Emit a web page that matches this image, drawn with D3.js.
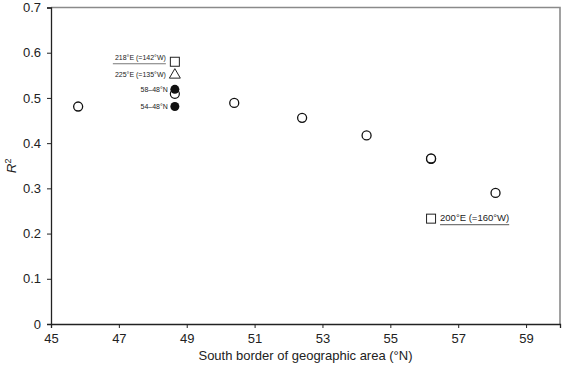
<!DOCTYPE html>
<html>
<head>
<meta charset="utf-8">
<script src="https://cdn.jsdelivr.net/npm/d3@7"></script>
<style>
  body { margin: 0; background: #fff; }
  text { font-family: "Liberation Sans", Arial, sans-serif; fill: #222; }
</style>
</head>
<body>
<svg id="chart"></svg>
<script>
// Chart size
const width = 563, height = 369;
const margin = { top: 7.5, right: 3, bottom: 45, left: 51 };

// Data: south border latitude vs R^2
const openLat = [45.8, 50.4, 52.4, 54.3, 56.2, 56.2, 58.1];
const openR2 = [0.481, 0.489, 0.456, 0.417, 0.365, 0.366, 0.29];

// Special points at 48.6 degrees
const groupLat = 48.65;
const halfOpenR2 = 0.509;   // open circle under the 58-48 point
const filledR2 = [0.519, 0.481];
const filledLabels = ["58\u201348\u00b0N", "54\u201348\u00b0N"];

const squareLat = [48.65, 56.2];
const squareR2 = [0.58, 0.233];
const squareLabels = ["218\u00b0E (=142\u00b0W)", "200\u00b0E (=160\u00b0W)"];

const triangleLat = [48.65];
const triangleR2 = [0.553];
const triangleLabels = ["225\u00b0E (=135\u00b0W)"];

const xTicks = [45, 47, 49, 51, 53, 55, 57, 59];
const yTicks = [0, 0.1, 0.2, 0.3, 0.4, 0.5, 0.6, 0.7];

const svg = d3.select("#chart")
    .attr("width", width)
    .attr("height", height);

const x = d3.scaleLinear().domain([45, 60]).range([margin.left, width - margin.right]);
const y = d3.scaleLinear().domain([0, 0.7]).range([height - margin.bottom, margin.top]);

// Grey frame on top and right
svg.append("path")
    .attr("d", `M${x(45)},${y(0.7)}H${x(60)}V${y(0)}`)
    .attr("fill", "none")
    .attr("stroke", "#8a8a8a")
    .attr("stroke-width", 1.6);

// Axes
const xAxis = svg.append("g")
    .attr("transform", `translate(0,${y(0)})`)
    .call(d3.axisBottom(x).tickValues(xTicks).tickSize(4).tickPadding(6).tickFormat(d3.format("d")));

const yAxis = svg.append("g")
    .attr("transform", `translate(${x(45)},0)`)
    .call(d3.axisLeft(y).tickValues(yTicks).tickSize(4).tickPadding(6).tickFormat(d => d === 0 ? "0" : d3.format(".1f")(d)));

[xAxis, yAxis].forEach(a => {
    a.select(".domain").attr("stroke", "#222").attr("stroke-width", 1.3);
    a.selectAll(".tick line").attr("stroke", "#222");
    a.selectAll(".tick text").attr("font-size", 13).attr("fill", "#222")
        .attr("font-family", "Liberation Sans, Arial, sans-serif");
});

// Axis titles
svg.append("text")
    .attr("x", (x(45) + x(60)) / 2)
    .attr("y", 360)
    .attr("text-anchor", "middle")
    .attr("font-size", 13)
    .text("South border of geographic area (\u00b0N)");

const yTitle = svg.append("text")
    .attr("transform", `translate(16,${y(0.35)}) rotate(-90)`)
    .attr("text-anchor", "middle")
    .attr("font-size", 13.5);
yTitle.append("tspan").attr("font-style", "italic").text("R");
yTitle.append("tspan").attr("font-size", 9).attr("dy", -5).text("2");

const r = 4.5;

// Open circles
svg.append("g").selectAll("circle")
    .data(openLat.map((d, i) => [d, openR2[i]]))
    .join("circle")
    .attr("cx", d => x(d[0]))
    .attr("cy", d => y(d[1]))
    .attr("r", r)
    .attr("fill", "white")
    .attr("stroke", "#111")
    .attr("stroke-width", 1.3);

// Open circle behind the 58-48 point
svg.append("circle")
    .attr("cx", x(groupLat))
    .attr("cy", y(halfOpenR2))
    .attr("r", r)
    .attr("fill", "white")
    .attr("stroke", "#111")
    .attr("stroke-width", 1.2);

// Filled circles
svg.append("g").selectAll("circle")
    .data(filledR2)
    .join("circle")
    .attr("cx", x(groupLat))
    .attr("cy", d => y(d))
    .attr("r", r)
    .attr("fill", "#111");

svg.append("g").selectAll("text")
    .data(filledR2)
    .join("text")
    .attr("x", x(groupLat) - 7)
    .attr("y", d => y(d) + 2.5)
    .attr("text-anchor", "end")
    .attr("font-size", 7)
    .text((d, i) => filledLabels[i]);

// Squares
const sq = 9;
svg.append("g").selectAll("rect")
    .data(squareLat.map((d, i) => [d, squareR2[i]]))
    .join("rect")
    .attr("x", d => x(d[0]) - sq / 2)
    .attr("y", d => y(d[1]) - sq / 2)
    .attr("width", sq)
    .attr("height", sq)
    .attr("fill", "white")
    .attr("stroke", "#222")
    .attr("stroke-width", 1);

// Triangle
svg.append("g").selectAll("path")
    .data(triangleLat.map((d, i) => [d, triangleR2[i]]))
    .join("path")
    .attr("d", d3.symbol(d3.symbolTriangle, 52))
    .attr("transform", d => `translate(${x(d[0])},${y(d[1]) + 1})`)
    .attr("fill", "white")
    .attr("stroke", "#222")
    .attr("stroke-width", 1);

// Labels for the 48.65 square and triangle, separated by a rule
const lx = x(groupLat) - 9;
svg.append("text")
    .attr("x", lx)
    .attr("y", y(squareR2[0]) - 2)
    .attr("text-anchor", "end")
    .attr("font-size", 7)
    .text(squareLabels[0]);
svg.append("line")
    .attr("x1", lx - 53).attr("x2", lx)
    .attr("y1", y(squareR2[0]) + 2).attr("y2", y(squareR2[0]) + 2)
    .attr("stroke", "#777").attr("stroke-width", 1.2);
svg.append("text")
    .attr("x", lx)
    .attr("y", y(triangleR2[0]) + 3)
    .attr("text-anchor", "end")
    .attr("font-size", 7)
    .text(triangleLabels[0]);

// Label for the 200E square, underlined
const l2x = x(squareLat[1]) + 9;
const l2 = svg.append("text")
    .attr("x", l2x)
    .attr("y", y(squareR2[1]) + 2)
    .attr("font-size", 9.5)
    .text(squareLabels[1]);
const l2w = l2.node().getComputedTextLength();
svg.append("line")
    .attr("x1", l2x).attr("x2", l2x + l2w)
    .attr("y1", y(squareR2[1]) + 6).attr("y2", y(squareR2[1]) + 6)
    .attr("stroke", "#777").attr("stroke-width", 1.2);
</script>
</body>
</html>
